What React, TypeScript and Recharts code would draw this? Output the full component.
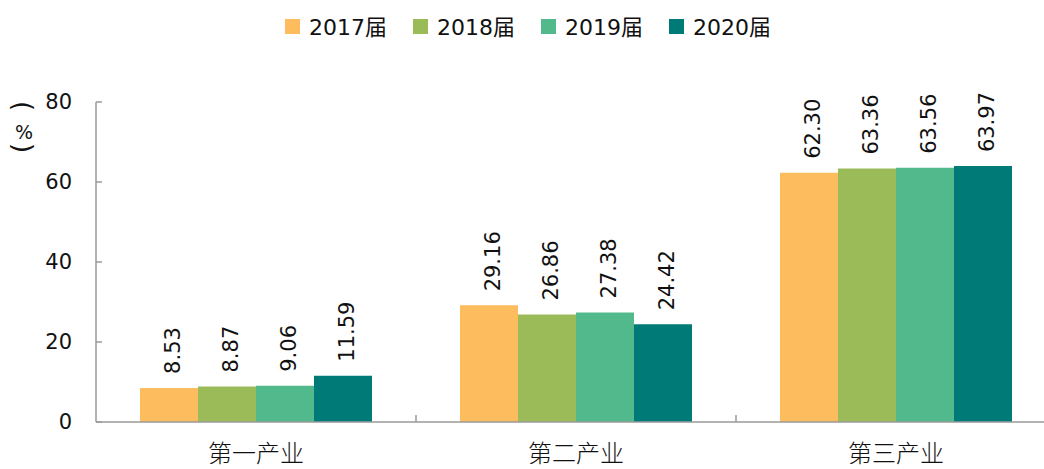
import React from "react";
import { BarChart, Bar, XAxis, YAxis, Legend, LabelList } from "recharts";

const CATEGORIES = ["第一产业", "第二产业", "第三产业"];
const YEARS = ["2017届", "2018届", "2019届", "2020届"];
const V2017 = [8.53, 29.16, 62.3];
const V2018 = [8.87, 26.86, 63.36];
const V2019 = [9.06, 27.38, 63.56];
const V2020 = [11.59, 24.42, 63.97];
const Y_TICKS = [0, 20, 40, 60, 80];

const COLORS = ["#FDBD5F", "#9BBB59", "#52B98D", "#007A76"];
const SERIES = [V2017, V2018, V2019, V2020];

const CHART_W = 1060;
const CHART_H = 469;
const MARGIN = { top: 0, right: 4, bottom: 0, left: 0 };
const Y_AXIS_W = 96;
const BAND_HALF = (CHART_W - MARGIN.left - MARGIN.right - Y_AXIS_W) / CATEGORIES.length / 2;
const AXIS_COLOR = "#9a9a9a";
const NUM_FONT = "'DejaVu Sans', 'Noto Sans CJK SC', sans-serif";

const data = CATEGORIES.map((name, i) => {
  const row: Record<string, string | number> = { name };
  YEARS.forEach((y, j) => {
    row[y] = SERIES[j][i];
  });
  return row;
});

function XTick(props: any) {
  const { x, y, payload } = props;
  return (
    <g>
      <line x1={x + BAND_HALF} x2={x + BAND_HALF} y1={y - 7} y2={y} stroke={AXIS_COLOR} strokeWidth={1.5} />
      <text
        x={x}
        y={y + 40}
        textAnchor="middle"
        fontSize={24}
        fontFamily="'Noto Sans CJK SC', sans-serif"
        fontWeight={300}
        fill="#111"
      >
        {payload.value}
      </text>
    </g>
  );
}

function YTick(props: any) {
  const { x, y, payload } = props;
  return (
    <g>
      <line x1={x} x2={x + 6} y1={y} y2={y} stroke={AXIS_COLOR} strokeWidth={1.5} />
      <text x={x - 24} y={y} dy={7} textAnchor="end" fontSize={21} fontFamily={NUM_FONT} fill="#111">
        {payload.value}
      </text>
    </g>
  );
}

// vertical "（%）" unit label: parentheses turned a quarter turn
function UnitLabel() {
  const cx = 23;
  const topY = 106;
  const botY = 148;
  return (
    <g fill="#111" fontFamily={NUM_FONT}>
      <text
        x={cx}
        y={topY}
        textAnchor="middle"
        dominantBaseline="central"
        fontSize={26}
        transform={`rotate(90, ${cx}, ${topY})`}
      >
        (
      </text>
      <text x={cx + 1} y={132} textAnchor="middle" dominantBaseline="central" fontSize={19}>
        %
      </text>
      <text
        x={cx}
        y={botY}
        textAnchor="middle"
        dominantBaseline="central"
        fontSize={26}
        transform={`rotate(90, ${cx}, ${botY})`}
      >
        )
      </text>
    </g>
  );
}

function BarValue(props: any) {
  const { x, y, width, value } = props;
  const px = x + width / 2 + 11;
  const py = y - 14;
  return (
    <text
      x={px}
      y={py}
      transform={`rotate(-90, ${px}, ${py})`}
      textAnchor="start"
      fontSize={21}
      fontFamily={NUM_FONT}
      fill="#111"
    >
      {Number(value).toFixed(2)}
    </text>
  );
}

function LegendBox() {
  return (
    <div
      style={{
        height: 102,
        boxSizing: "border-box",
        paddingTop: 19,
        display: "flex",
        justifyContent: "center",
        gap: 26,
        fontFamily: NUM_FONT,
        fontSize: 22,
        color: "#111",
      }}
    >
      {YEARS.map((y, i) => (
        <div key={y} style={{ display: "flex", alignItems: "flex-start", height: 16 }}>
          <span style={{ width: 15, height: 15, background: COLORS[i], display: "inline-block", marginRight: 9 }} />
          <span style={{ lineHeight: "15px", marginTop: 1 }}>{y}</span>
        </div>
      ))}
    </div>
  );
}

export default function App() {
  return (
    <div style={{ position: "absolute", left: 0, top: 0, width: 1044, height: 469, overflow: "hidden", background: "#fff" }}>
      <BarChart width={CHART_W} height={CHART_H} data={data} margin={MARGIN} barCategoryGap="13.75%" barGap={0}>
        <Legend verticalAlign="top" content={<LegendBox />} />
        <XAxis
          dataKey="name"
          height={47}
          tickSize={0}
          tickMargin={0}
          tick={<XTick />}
          axisLine={{ stroke: AXIS_COLOR, strokeWidth: 1.5 }}
          tickLine={false}
          interval={0}
        />
        <YAxis
          width={Y_AXIS_W}
          domain={[0, 80]}
          ticks={Y_TICKS}
          tickSize={0}
          tickMargin={0}
          tick={<YTick />}
          axisLine={{ stroke: AXIS_COLOR, strokeWidth: 1.5 }}
          tickLine={false}
          label={<UnitLabel />}
        />
        {YEARS.map((y, i) => (
          <Bar key={y} dataKey={y} fill={COLORS[i]} isAnimationActive={false}>
            <LabelList dataKey={y} content={<BarValue />} />
          </Bar>
        ))}
      </BarChart>
    </div>
  );
}
